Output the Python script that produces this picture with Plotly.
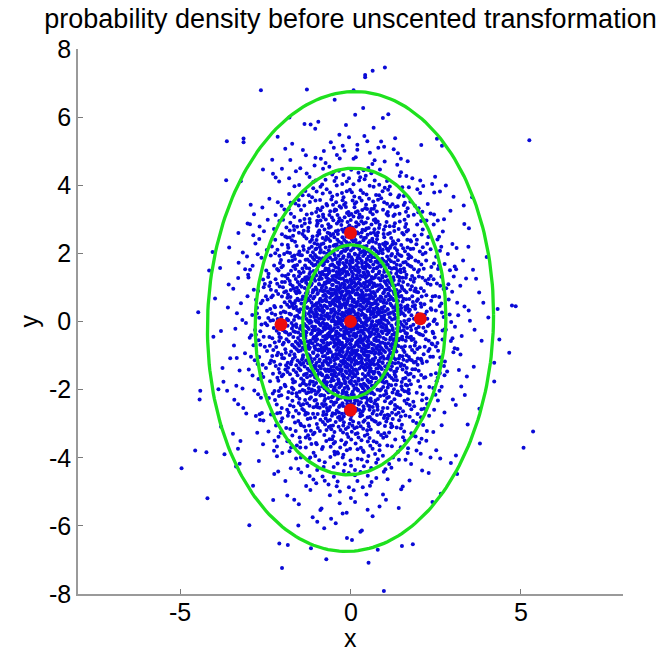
import numpy as np
import plotly.graph_objects as go

# ---- data ----
TITLE = "probability density before unscented transformation"
X_LABEL = "x"
Y_LABEL = "y"

# 1-sigma ellipse parameters of the sample cloud
SIGMA_X = 1.40
SIGMA_Y = 2.25
RHO = 0.03
ELLIPSE_K = [1, 2, 3]

# sigma points (red)
SIGMA_PTS_X = [0.00, -2.04, 2.05, 0.00, 0.00]
SIGMA_PTS_Y = [0.00, -0.09, 0.08, 2.60, -2.60]

# estimated number of samples per Mahalanobis-distance ring (ring edges in sigma units)
RING_EDGES = [0.0, 0.25, 0.5, 0.75, 1.0, 1.25, 1.5, 1.75, 2.0, 2.25, 2.5, 2.75, 3.0]
RING_COUNTS = [90, 255, 375, 440, 440, 395, 320, 240, 165, 105, 62, 35]

# individual samples outside the 3-sigma ellipse
OUT_X = [-2.63, -1.28, -3.63, -3.14, -3.14, -3.65, -4.47, -4.15, -4.05,
         1.01, 0.65, 0.43, 0.43, 0.09, 5.25, 4.74, 4.85, 4.32,
         -4.41, -4.43, -4.56, -4.23, -4.96, -4.20, -2.97, -2.09, -1.84, -2.01,
         -0.71, -1.16, -3.70, -3.80, -3.36,
         4.66, 5.36, 5.08, 0.80, 1.51, 1.83, 0.53, 0.98, 4.37, 4.22, 4.22, 3.80, 3.13]
OUT_Y = [6.79, 6.81, 5.29, 5.37, 5.26, 4.15, 0.27, 1.50, 2.04,
         7.46, 7.36, 7.24, 7.17, 6.79, 5.32, 0.47, 0.45, 0.37,
         -2.03, -2.29, -3.79, -3.84, -4.31, -5.19, -5.98, -6.52, -6.56, -7.24,
         -6.98, -6.66, -3.90, -3.09, -4.26,
         -0.92, -3.23, -3.71, -6.70, -6.59, -6.54, -7.08, -7.91, -0.53, -1.21, -1.76, -3.58, -4.48]

X_TICKS = [-5, 0, 5]
X_TICKTEXT = ["-5", "0", "5"]
Y_TICKS = [-8, -6, -4, -2, 0, 2, 4, 6, 8]
Y_TICKTEXT = ["-8", "-6", "-4", "-2", "0", "2", "4", "6", "8"]
AXIS_RANGE = [-8, 8]


# ---- build the cloud: each ring's count spread evenly over its annulus
#      (deterministic Halton placement, kept only inside the ring) ----
def halton(i, b):
    f, r = 1.0, 0.0
    while i > 0:
        f /= b
        r += f * (i % b)
        i //= b
    return r


L = np.array([[SIGMA_X, 0.0],
              [RHO * SIGMA_Y, SIGMA_Y * np.sqrt(1 - RHO ** 2)]])
cx, cy = [], []
idx = 1
for j, n in enumerate(RING_COUNTS):
    r0, r1 = RING_EDGES[j], RING_EDGES[j + 1]
    got = 0
    while got < n:
        a = (2 * halton(idx, 2) - 1) * r1
        b = (2 * halton(idx, 3) - 1) * r1
        idx += 1
        rr = np.hypot(a, b)
        if r0 <= rr < r1:
            p = L @ np.array([a, b])
            cx.append(p[0])
            cy.append(p[1])
            got += 1
cloud_x = cx + OUT_X
cloud_y = cy + OUT_Y

fig = go.Figure()
fig.add_trace(go.Scatter(
    x=cloud_x, y=cloud_y, mode="markers",
    marker=dict(size=4, color="rgb(10,10,215)", line=dict(width=0)),
    hoverinfo="skip"))

tt = np.linspace(0, 2 * np.pi, 241)
for k in ELLIPSE_K:
    e = L @ np.vstack([k * np.cos(tt), k * np.sin(tt)])
    fig.add_trace(go.Scatter(
        x=e[0], y=e[1], mode="lines",
        line=dict(color="rgb(30,225,30)", width=3.3), hoverinfo="skip"))

fig.add_trace(go.Scatter(
    x=SIGMA_PTS_X, y=SIGMA_PTS_Y, mode="markers",
    marker=dict(size=13, color="rgb(235,12,12)", line=dict(width=0))))

FONT = "Liberation Sans, Arial, Helvetica, sans-serif"
LABEL_FONT = dict(family=FONT, size=25, color="black")
axis_common = dict(
    range=AXIS_RANGE, showgrid=False, zeroline=False, automargin=False,
    showline=True, linecolor="#9a9a9a", linewidth=1.6,
    ticks="inside", ticklen=5, tickcolor="#7a7a7a", tickwidth=1,
    tickfont=LABEL_FONT,
)

# x tick labels placed a little closer to the axis than plotly's default
x_tick_annotations = [
    dict(text=t, x=v, xref="x", yref="paper", y=-18 / 545,
         xanchor="center", yanchor="middle", showarrow=False, font=LABEL_FONT)
    for v, t in zip(X_TICKS, X_TICKTEXT)
]

fig.update_layout(
    width=670, height=652,
    margin=dict(l=78, r=47, t=49, b=58),
    paper_bgcolor="white", plot_bgcolor="white",
    showlegend=False,
    title=dict(text=TITLE, x=0.5, xref="paper", xanchor="center",
               y=1 - 19 / 652, yref="container", yanchor="middle",
               font=dict(family=FONT, size=27, color="black")),
    xaxis=dict(**axis_common, tickvals=X_TICKS, showticklabels=False),
    yaxis=dict(**axis_common, tickvals=Y_TICKS, ticktext=Y_TICKTEXT),
    annotations=x_tick_annotations + [
        dict(text=X_LABEL, xref="paper", yref="paper", x=0.5, y=-44 / 545,
             xanchor="center", yanchor="middle", showarrow=False, font=LABEL_FONT),
        dict(text=Y_LABEL, xref="paper", yref="paper", x=-50 / 545, y=0.5,
             xanchor="center", yanchor="middle", showarrow=False, textangle=-90,
             font=LABEL_FONT),
    ],
)

fig.write_html("out.html")
